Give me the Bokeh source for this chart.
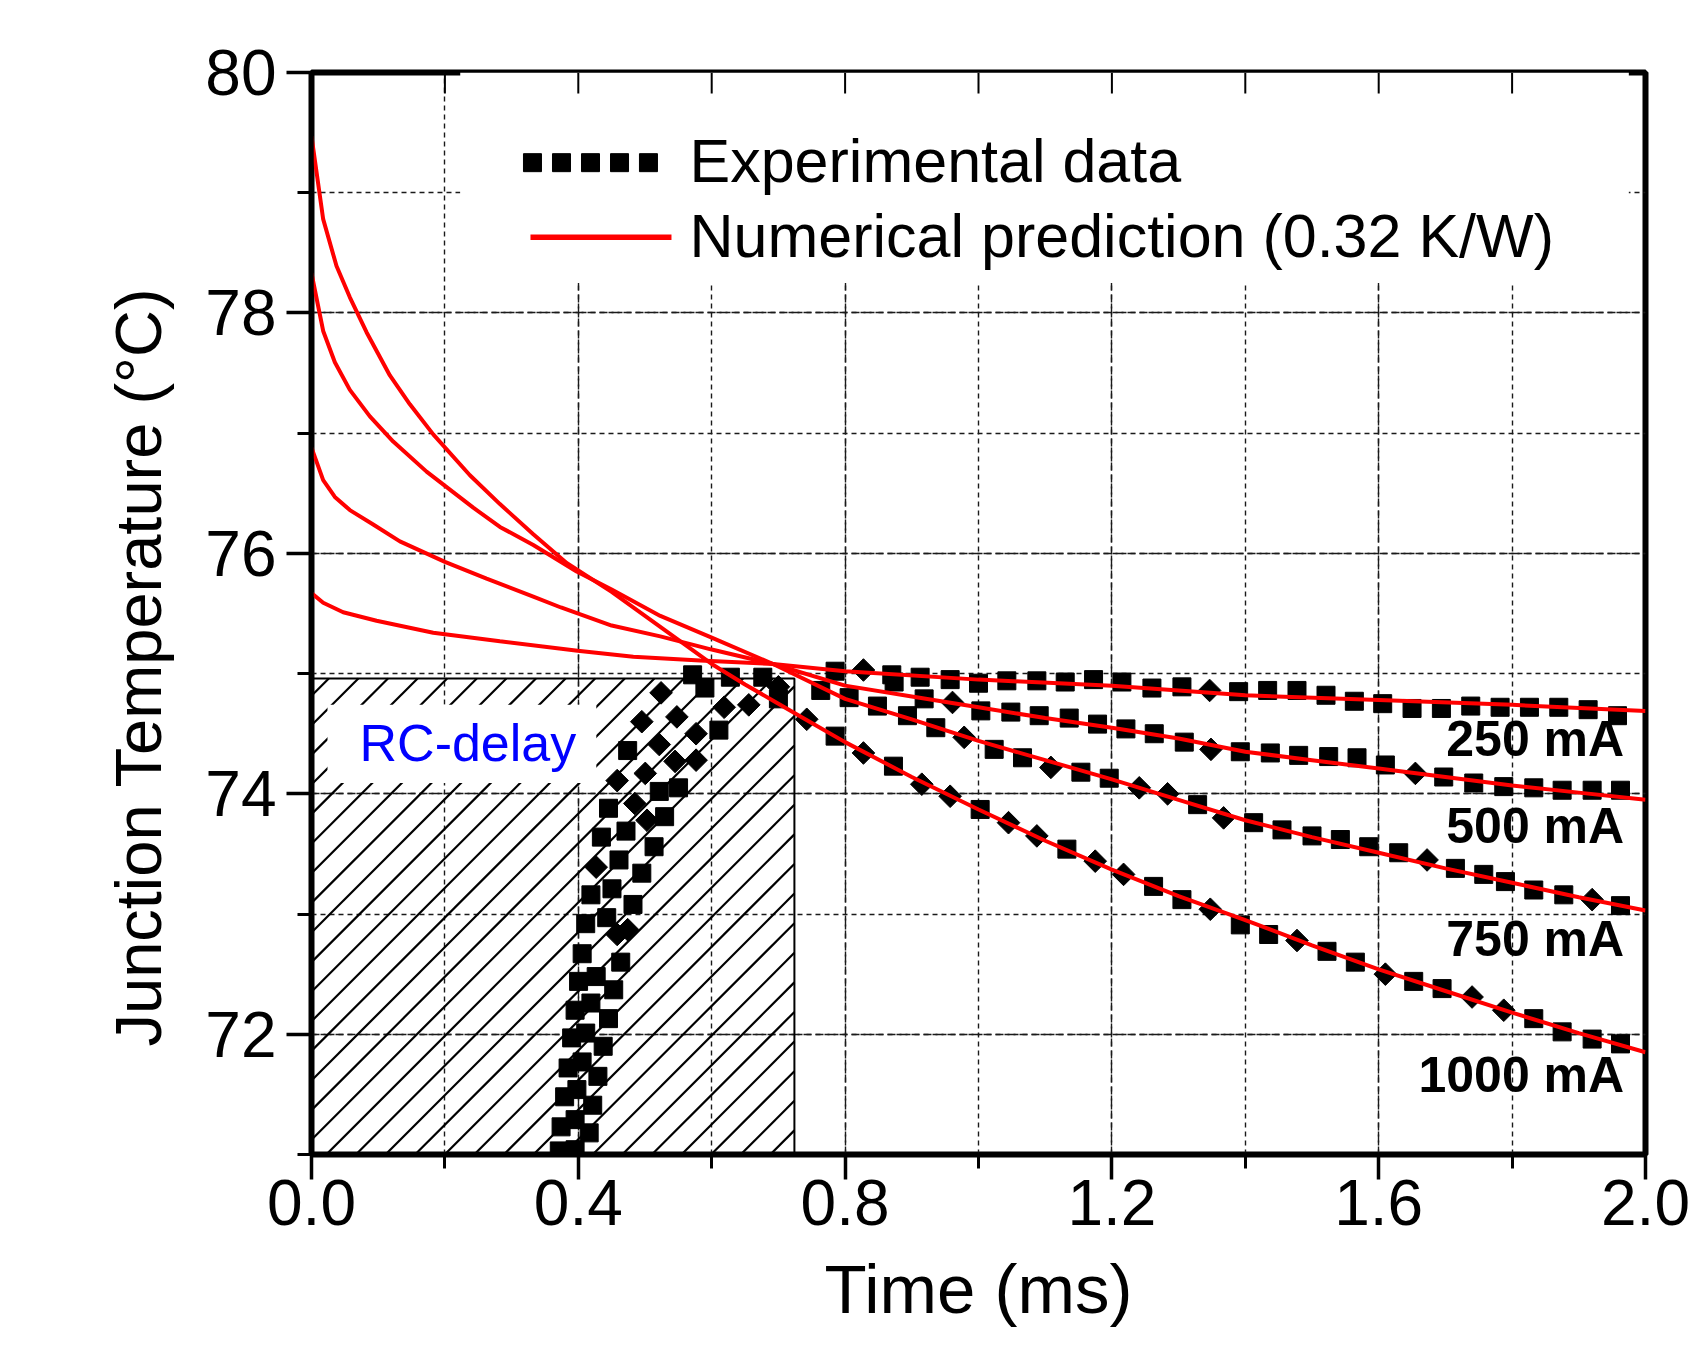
from bokeh.plotting import figure
from bokeh.models import (Range1d, SingleIntervalTicker, Label, NumeralTickFormatter, Title)
from bokeh.embed import file_html
from bokeh.resources import INLINE
import math

FONT = "Liberation Sans"

# ---------------- Numerical prediction (0.32 K/W) ----------------
num_1000_t = [0, 0.0175, 0.0375, 0.0575, 0.0825, 0.1175, 0.1475, 0.1825, 0.2375, 0.2825,
              0.3325, 0.3825, 0.45, 0.5, 0.55, 0.6, 0.65, 0.7, 0.75, 0.8, 0.9, 1.0, 1.1,
              1.2, 1.3, 1.4, 1.5, 1.6, 1.7, 1.8, 1.9, 2.0]
num_1000_T = [79.47, 78.78, 78.39, 78.13, 77.84, 77.48, 77.24, 76.99, 76.65, 76.41,
              76.16, 75.92, 75.68, 75.48, 75.28, 75.08, 74.91, 74.75, 74.59, 74.43, 74.14, 73.87, 73.61,
              73.37, 73.15, 72.95, 72.74, 72.54, 72.36, 72.18, 72.01, 71.85]

num_750_t = [0, 0.0175, 0.035, 0.0575, 0.0875, 0.1225, 0.1725, 0.2425, 0.2825, 0.3325,
             0.3975, 0.45, 0.523, 0.6, 0.692, 0.8, 0.9, 1.0, 1.1, 1.2, 1.3, 1.4, 1.5,
             1.6, 1.7, 1.8, 1.9, 2.0]
num_750_T = [78.33, 77.85, 77.59, 77.36, 77.14, 76.93, 76.68, 76.38, 76.22, 76.07,
             75.85, 75.70, 75.48, 75.30, 75.08, 74.79, 74.62, 74.44, 74.28, 74.12, 73.95, 73.78, 73.64,
             73.51, 73.38, 73.26, 73.14, 73.03]

num_500_t = [0, 0.0175, 0.035, 0.0575, 0.0925, 0.1325, 0.2, 0.2625, 0.3325, 0.374,
             0.45, 0.523, 0.6, 0.692, 0.8, 0.9, 1.0, 1.1, 1.2, 1.3, 1.4, 1.5, 1.6,
             1.7, 1.8, 1.9, 2.0]
num_500_T = [76.88, 76.61, 76.47, 76.36, 76.24, 76.10, 75.93, 75.79, 75.64, 75.55,
             75.40, 75.31, 75.20, 75.08, 74.90, 74.81, 74.72, 74.63, 74.55, 74.46, 74.35, 74.28, 74.21,
             74.14, 74.07, 74.01, 73.95]

num_250_t = [0, 0.0175, 0.0475, 0.0975, 0.1825, 0.2825, 0.399, 0.4825, 0.5825, 0.692,
             0.8, 1.0, 1.2, 1.4, 1.6, 1.8, 2.0]
num_250_T = [75.67, 75.59, 75.51, 75.44, 75.34, 75.27, 75.19, 75.14, 75.11, 75.08,
             75.02, 74.95, 74.90, 74.82, 74.78, 74.74, 74.69]

# ---------------- Experimental data ----------------
rise_sq_t = [0.5714, 0.5898, 0.6108, 0.628, 0.6766, 0.700, 0.474, 0.5503, 0.5214, 0.4453,
             0.5294, 0.4715, 0.4346, 0.5136, 0.461, 0.4952, 0.4189, 0.4505, 0.482, 0.4426,
             0.4111, 0.4636, 0.4058, 0.4004, 0.4531, 0.4268, 0.3952, 0.4453, 0.4189, 0.390,
             0.4373, 0.4111, 0.3847, 0.4294, 0.4057, 0.3795, 0.4216, 0.3979, 0.3742, 0.4163,
             0.3952, 0.3715, 0.3952]
rise_sq_T = [74.99, 74.88, 74.53, 74.97, 74.97, 74.79, 74.36, 74.05, 74.02, 73.88,
             73.81, 73.69, 73.64, 73.56, 73.45, 73.34, 73.16, 73.21, 73.08, 72.97,
             72.92, 72.60, 72.67, 72.44, 72.37, 72.48, 72.20, 72.13, 72.26, 71.97,
             71.90, 72.01, 71.72, 71.65, 71.77, 71.48, 71.41, 71.54, 71.23, 71.18,
             71.29, 71.03, 71.04]
rise_dia_t = [0.5241, 0.4952, 0.5478, 0.5214, 0.5766, 0.4583, 0.5004, 0.5451, 0.5766,
              0.4847, 0.503, 0.4268, 0.4583, 0.474, 0.6187, 0.6556, 0.700]
rise_dia_T = [74.84, 74.60, 74.64, 74.41, 74.50, 74.11, 74.17, 74.27, 74.28,
              73.92, 73.78, 73.39, 72.83, 72.87, 74.72, 74.74, 74.89]

exp_250_sq_t = [0.785, 0.87, 0.9125, 0.9575, 1.0, 1.0425, 1.0875, 1.13, 1.1725, 1.215, 1.26,
                1.305, 1.39, 1.4335, 1.4775, 1.521, 1.5635, 1.606, 1.65, 1.694, 1.738, 1.782,
                1.826, 1.87, 1.914, 1.958]
exp_250_sq_T = [75.02, 74.99, 74.97, 74.95, 74.92, 74.94, 74.94, 74.93, 74.95, 74.93, 74.88,
                74.89, 74.85, 74.86, 74.86, 74.82, 74.77, 74.75, 74.71, 74.71, 74.73, 74.72,
                74.72, 74.72, 74.70, 74.65]
exp_250_dia_t = [0.8275, 1.3465]
exp_250_dia_T = [75.03, 74.86]

exp_500_sq_t = [0.8735, 0.9185, 1.0035, 1.0485, 1.091, 1.136, 1.1785, 1.221, 1.2635, 1.3085,
                1.3925, 1.4375, 1.48, 1.525, 1.5675, 1.61, 1.6975, 1.7425, 1.7875, 1.8325,
                1.875, 1.92, 1.9625]
exp_500_sq_T = [74.93, 74.79, 74.69, 74.68, 74.65, 74.63, 74.58, 74.54, 74.50, 74.43,
                74.35, 74.34, 74.32, 74.31, 74.30, 74.24, 74.14, 74.09, 74.06, 74.05,
                74.03, 74.03, 74.03]
exp_500_dia_t = [0.961, 1.3485, 1.655]
exp_500_dia_T = [74.76, 74.37, 74.17]

exp_750_sq_t = [0.7635, 0.806, 0.8485, 0.8935, 0.936, 1.0235, 1.066, 1.1535, 1.196, 1.3285,
                1.4125, 1.455, 1.5, 1.5425, 1.585, 1.63, 1.715, 1.7575, 1.79, 1.8325,
                1.8775, 1.9625]
exp_750_sq_T = [74.86, 74.80, 74.73, 74.65, 74.55, 74.37, 74.30, 74.18, 74.13, 73.91,
                73.76, 73.70, 73.65, 73.62, 73.56, 73.51, 73.38, 73.33, 73.27, 73.20,
                73.16, 73.07]
exp_750_dia_t = [0.9785, 1.1085, 1.241, 1.2835, 1.3675, 1.6725, 1.92]
exp_750_dia_T = [74.47, 74.22, 74.05, 74.00, 73.80, 73.45, 73.12]

exp_1000_sq_t = [0.785, 0.8725, 1.0025, 1.1325, 1.2625, 1.305, 1.3925, 1.435, 1.5225, 1.565,
                 1.6525, 1.695, 1.8325, 1.875, 1.92, 1.9625]
exp_1000_sq_T = [74.48, 74.23, 73.87, 73.54, 73.23, 73.12, 72.91, 72.83, 72.69, 72.60,
                 72.44, 72.38, 72.13, 72.02, 71.96, 71.92]
exp_1000_dia_t = [0.7425, 0.8275, 0.915, 0.9575, 1.045, 1.0875, 1.175, 1.2175, 1.3475,
                  1.4775, 1.61, 1.74, 1.7875]
exp_1000_dia_T = [74.62, 74.34, 74.08, 73.98, 73.76, 73.65, 73.44, 73.33, 73.04,
                  72.78, 72.50, 72.31, 72.20]

rc_delay_end = 0.724
rc_delay_top = 74.96

current_labels = ["250 mA", "500 mA", "750 mA", "1000 mA"]
current_label_T = [74.30, 73.58, 72.64, 71.51]

x_tick_step = 0.4
y_tick_step = 2
x_min, x_max = 0.0, 2.0
y_min, y_max = 71, 80

# ---------------- Layout ----------------
FL, FT, FW, FH = 311, 72, 1334, 1082          # frame left/top/width/height (px)
PX_T = FW / (x_max - x_min)                   # px per ms
PX_Y = FH / (y_max - y_min)                   # px per degree
BASE_SHIFT = 0.37                             # alphabetic baseline correction (em)


def base_y(T, fs):
    return T + BASE_SHIFT * fs / PX_Y


p = figure(width=1695, height=1351, output_backend="svg", toolbar_location=None,
           x_range=Range1d(x_min, x_max), y_range=Range1d(y_min, y_max),
           min_border_left=FL, min_border_right=50, min_border_top=FT,
           min_border_bottom=1351 - FT - FH)
p.background_fill_color = "white"
p.border_fill_color = "white"
p.outline_line_color = "black"
p.outline_line_width = 6

xt = SingleIntervalTicker(interval=x_tick_step, num_minor_ticks=2)
yt = SingleIntervalTicker(interval=y_tick_step, num_minor_ticks=2)

xa = p.xaxis[0]
ya = p.yaxis[0]
xa.ticker = xt
ya.ticker = yt
xa.formatter = NumeralTickFormatter(format="0.0")
for ax in (xa, ya):
    ax.axis_line_width = 4.5
    ax.major_tick_out = 25
    ax.major_tick_in = 0
    ax.minor_tick_out = 14
    ax.minor_tick_in = 0
    ax.major_tick_line_width = 3.5
    ax.minor_tick_line_width = 3
    ax.major_label_text_font = FONT
    ax.major_label_text_font_size = "64px"
    ax.major_label_text_color = "black"
xa.major_label_standoff = 0
ya.major_label_standoff = 10

for g, t in ((p.xgrid[0], xt), (p.ygrid[0], yt)):
    g.ticker = t
    g.grid_line_color = "#1a1a1a"
    g.grid_line_width = 1.4
    g.grid_line_dash = "8 4"
    g.minor_grid_line_color = "#1a1a1a"
    g.minor_grid_line_width = 1.4
    g.minor_grid_line_dash = "5 4"

# axis titles as side-panel titles
p.add_layout(Title(text="Time (ms)", align="center", text_font=FONT, text_font_size="69px",
                   text_font_style="normal", text_color="black", standoff=43), "below")
p.add_layout(Title(text="Junction Temperature (°C)", align="left", offset=108,
                   text_font=FONT, text_font_size="65px", text_font_style="normal",
                   text_color="black", standoff=55), "left")

# legend background (hides grid)
p.quad(left=[0.223], right=[1.975], bottom=[78.25], top=[y_max], fill_color="white",
       line_color=None)

# inward ticks on the top axis
top_ticks = [round(x_tick_step / 2 * i, 2) for i in range(1, 10)]
p.segment(x0=top_ticks, y0=[y_max] * len(top_ticks), x1=top_ticks,
          y1=[y_max - 21 / PX_Y] * len(top_ticks), line_color="black", line_width=2)

# RC-delay hatched region: 45-degree hatch lines, 29.6 px apart
W = rc_delay_end * PX_T
H = (rc_delay_top - y_min) * PX_Y
sp = 29.6
hx0, hy0, hx1, hy1 = [], [], [], []
k = -int(H / sp) - 2
while sp * (k + 0.5) < W:
    x0 = sp * (k + 0.5)
    a = max(0.0, x0)
    b = min(W, x0 + H)
    if b > a:
        hx0.append(a / PX_T)
        hy0.append(y_min + (a - x0) / PX_Y)
        hx1.append(b / PX_T)
        hy1.append(y_min + (b - x0) / PX_Y)
    k += 1
p.segment(x0=hx0, y0=hy0, x1=hx1, y1=hy1, line_color="black", line_width=2.2)
p.quad(left=[0], right=[rc_delay_end], bottom=[y_min], top=[rc_delay_top], fill_color=None,
       line_color="black", line_width=2)
p.quad(left=[0.024], right=[0.427], bottom=[74.09], top=[74.74], fill_color="white",
       line_color=None)

sq_kw = dict(marker="square", size=18, fill_color="black", line_color="black")
dia_kw = dict(marker="square", size=16, angle=math.pi / 4, fill_color="black",
              line_color="black")
p.scatter(rise_sq_t, rise_sq_T, **sq_kw)
p.scatter(rise_dia_t, rise_dia_T, **dia_kw)
for st, sT, dt, dT in ((exp_250_sq_t, exp_250_sq_T, exp_250_dia_t, exp_250_dia_T),
                       (exp_500_sq_t, exp_500_sq_T, exp_500_dia_t, exp_500_dia_T),
                       (exp_750_sq_t, exp_750_sq_T, exp_750_dia_t, exp_750_dia_T),
                       (exp_1000_sq_t, exp_1000_sq_T, exp_1000_dia_t, exp_1000_dia_T)):
    p.scatter(st, sT, **sq_kw)
    p.scatter(dt, dT, **dia_kw)

for t, T in ((num_1000_t, num_1000_T), (num_750_t, num_750_T),
             (num_500_t, num_500_T), (num_250_t, num_250_T)):
    p.line(t, T, line_color="#ff0000", line_width=4)

# legend
leg_sq_t = [0.3313, 0.3748, 0.4183, 0.4618, 0.5052]
p.scatter(leg_sq_t, [79.25] * 5, **sq_kw)
p.line([0.3283, 0.5397], [78.63, 78.63], line_color="#ff0000", line_width=5.5)
p.add_layout(Label(x=0.5667, y=base_y(79.08, 61), text="Experimental data", text_font=FONT,
                   text_font_size="61px", text_baseline="alphabetic", text_color="black"))
p.add_layout(Label(x=0.5667, y=base_y(78.45, 61), text="Numerical prediction (0.32 K/W)",
                   text_font=FONT, text_font_size="61px",
                   text_baseline="alphabetic", text_color="black"))

p.add_layout(Label(x=0.072, y=base_y(74.264, 52), text="RC-delay", text_font=FONT,
                   text_font_size="52px", text_baseline="alphabetic", text_color="#0000ff"))

for lab, yv in zip(current_labels, current_label_T):
    p.add_layout(Label(x=1.968, y=base_y(yv, 50), text=lab, text_font=FONT,
                       text_font_size="50px", text_font_style="bold", text_align="right",
                       text_baseline="alphabetic", text_color="black"))

open("out.html", "w").write(file_html(p, INLINE))
